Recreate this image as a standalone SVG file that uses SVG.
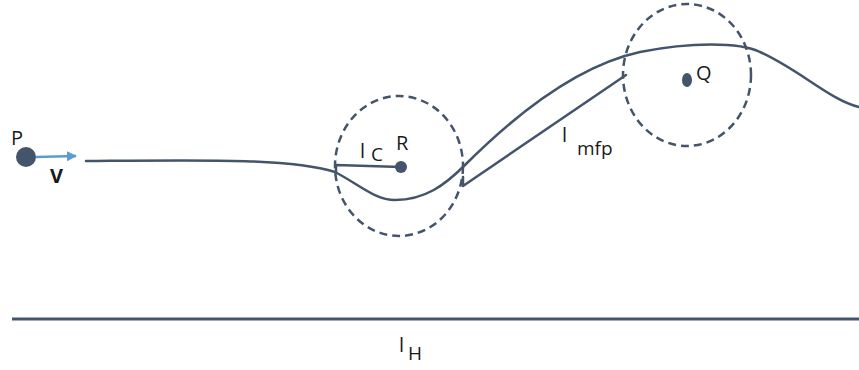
<svg xmlns="http://www.w3.org/2000/svg" width="859" height="370" viewBox="0 0 859 370">
<defs>
<style>
.ln{fill:none;stroke:#44546a;stroke-width:2.5;stroke-linecap:round;stroke-linejoin:round}
.ds{fill:none;stroke:#44546a;stroke-width:2.5;stroke-dasharray:8 5}
.dot{fill:#44546a}
.t{font-family:"Open Sans","Liberation Sans",sans-serif;font-size:20px;fill:#1a1a1a}
.s{font-family:"Open Sans","Liberation Sans",sans-serif;font-size:19px;fill:#1a1a1a}
</style>
<marker id="ah" viewBox="0 0 10 10" refX="9" refY="5" markerWidth="4" markerHeight="4" orient="auto">
<path d="M0,0 L10,5 L0,10 z" fill="#5b9bd5"/>
</marker>
</defs>
<rect width="859" height="370" fill="#fff"/>
<g id="connectors">
<path class="ln" d="M86,161 C200,160 290,158 335,172 C360,185 375,200 395,200 C425,200 445,185 465,165 C520,110 580,65 640,52 C690,42 740,42 760,52 C800,70 830,100 859,107"/>
<path class="ln" d="M463,177 L463,186 L626,75"/>
<path class="ln" d="M336,172 L336,165 L401,167"/>
<line x1="36" y1="157" x2="76" y2="156" stroke="#5b9bd5" stroke-width="2.5" marker-end="url(#ah)"/>
<line x1="12" y1="319" x2="859" y2="319" stroke="#44546a" stroke-width="3"/>
</g>
<g id="P">
<circle class="dot" cx="26" cy="157" r="10"/>
<text class="t" x="11" y="145">P</text>
<text class="t" x="50" y="183" font-size="18" font-weight="bold">V</text>
</g>
<g id="R">
<ellipse class="ds" cx="399" cy="166" rx="64" ry="70"/>
<circle class="dot" cx="401" cy="167" r="6"/>
<text class="t" x="396" y="150">R</text>
<text class="t" x="360" y="158">l</text>
<text class="s" x="371" y="161">C</text>
</g>
<g id="Q">
<ellipse class="ds" cx="687" cy="75" rx="64" ry="71"/>
<ellipse class="dot" cx="687" cy="80" rx="5" ry="7"/>
<text class="t" x="696" y="80">Q</text>
</g>
<g id="labels">
<text class="t" x="562" y="142">l</text>
<text class="s" x="577" y="155">mfp</text>
<text class="t" x="399" y="352">l</text>
<text class="s" x="408" y="360">H</text>
</g>
</svg>
